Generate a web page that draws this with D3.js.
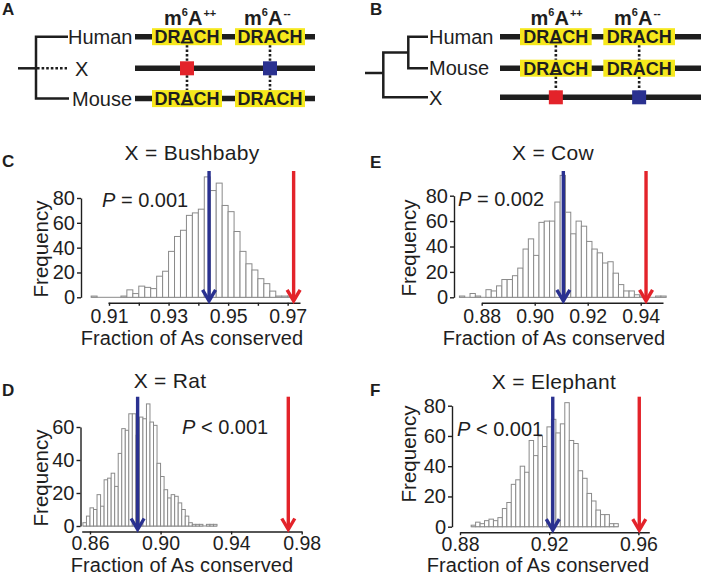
<!DOCTYPE html>
<html><head><meta charset="utf-8">
<script src="https://cdn.jsdelivr.net/npm/d3@7"></script>
<style>
html,body{margin:0;padding:0;background:#fff;}
svg{display:block;}
</style></head><body>
<svg id="fig" width="701" height="574"></svg>
<script>
// ---------------- DATA ----------------
const species = ["Bushbaby", "Cow", "Rat", "Elephant"];
const panelLetters = ["C", "E", "D", "F"];
const binWidth = 0.002;
const bushbabyStart = 0.904;
const bushbabyCounts = [1,0,0,0,0,1,6,3,9,8,7,17,21,37,49,54,66,68,71,97,86,92,74,69,53,37,27,22,15,11,5,1,1,1];
const cowStart = 0.8716;
const cowCounts = [1,0,3,1,0,6,5,9,14,14,17,23,38,46,33,59,60,60,75,96,67,50,60,56,44,38,35,27,28,19,10,5,5,2,1,0,0,1,1];
const ratStart = 0.856;
const ratCounts = [2,6,11,10,19,12,28,29,32,24,44,59,58,68,68,55,66,65,74,63,61,38,30,22,17,19,18,14,10,6,2,1,1,1,0,1,1,1];
const elephantStart = 0.885;
const elephantCounts = [1,3,2,4,5,4,6,12,16,28,31,40,36,57,47,60,53,66,71,62,68,82,57,55,37,32,22,17,11,8,8,2,2];
const expectedValues = [0.9436, 0.9108, 0.8870, 0.9216];   // blue arrows
const observedValues = [0.9720, 0.9420, 0.9724, 0.9604];   // red arrows
const pSigns = ["=", "=", "<", "<"];
const pValues = ["0.001", "0.002", "0.001", "0.001"];
const xTickValues = [
  [0.91,0.92,0.93,0.94,0.95,0.96,0.97],
  [0.88,0.90,0.92,0.94],
  [0.86,0.90,0.94,0.98],
  [0.88,0.92,0.96]
];
const xTickLabels = [
  ["0.91","","0.93","","0.95","","0.97"],
  ["0.88","0.90","0.92","0.94"],
  ["0.86","0.90","0.94","0.98"],
  ["0.88","0.92","0.96"]
];
const yTickValues = [[0,20,40,60,80],[0,20,40,60,80],[0,20,40,60],[0,20,40,60,80]];
const yMaxValues = [80, 80, 60, 80];
const rowNamesA = ["Human", "X", "Mouse"];
const rowNamesB = ["Human", "Mouse", "X"];
const motif = "DRACH";

// ---------------- LAYOUT ----------------
const FONT = "'Liberation Sans', Arial, Helvetica, sans-serif";
const INK = "#1e1e1e";
const YELLOW = "#f6e81c";
const RED = "#e3232a";
const BLUE = "#2a3190";
const svg = d3.select("#fig").attr("font-family", FONT);

function letter(txt, x, y) {
  svg.append("text").attr("x", x).attr("y", y).attr("font-size", 17)
    .attr("font-weight", "bold").attr("fill", INK).text(txt);
}

function polyline(g, pts, w, dash) {
  const p = g.append("path").attr("d", d3.line()(pts)).attr("fill", "none")
    .attr("stroke", INK).attr("stroke-width", w);
  if (dash) p.attr("stroke-dasharray", dash);
  return p;
}

function m6A(g, x, y, sup) {
  const t = g.append("text").attr("x", x).attr("y", y).attr("font-size", 20)
    .attr("font-weight", "bold").attr("fill", INK);
  t.append("tspan").text("m");
  t.append("tspan").attr("font-size", 11).attr("dy", -9).text("6");
  t.append("tspan").attr("dy", 9).text("A");
  t.append("tspan").attr("font-size", 11).attr("dy", -8).attr("dx", 1).text(sup);
}

function motifBox(g, x0, x1, cy, underline) {
  g.append("rect").attr("x", x0).attr("y", cy - 8.5).attr("width", x1 - x0).attr("height", 17)
    .attr("fill", YELLOW);
  const cx = (x0 + x1) / 2;
  g.append("text").attr("x", cx).attr("y", cy + 6.6).attr("text-anchor", "middle")
    .attr("font-size", 18).attr("font-weight", "bold").attr("fill", INK).text(motif);
  if (underline) {
    g.append("line").attr("x1", cx - 6.3).attr("x2", cx + 6.3).attr("y1", cy + 5.8).attr("y2", cy + 5.8)
      .attr("stroke", INK).attr("stroke-width", 1.8);
  }
}

function seqLine(g, x0, x1, y) {
  g.append("line").attr("x1", x0).attr("x2", x1).attr("y1", y).attr("y2", y)
    .attr("stroke", INK).attr("stroke-width", 5.5);
}

function square(g, cx, cy, color) {
  g.append("rect").attr("x", cx - 7).attr("y", cy - 7).attr("width", 14).attr("height", 14).attr("fill", color);
}

function dotted(g, x, y0, y1) {
  g.append("line").attr("x1", x).attr("x2", x).attr("y1", y0).attr("y2", y1)
    .attr("stroke", INK).attr("stroke-width", 2.6).attr("stroke-dasharray", "2.4,2");
}

// ---------- Panel A ----------
(function () {
  const g = svg.append("g");
  letter("A", 2, 15);
  const rowY = [36.7, 68.3, 98.6];
  const boxes = [[152, 222], [235, 305]];
  m6A(g, 164, 24.8, "++");
  m6A(g, 244, 24.8, "--");
  polyline(g, [[18, rowY[1]], [36, rowY[1]]], 2.5);
  polyline(g, [[68, rowY[0]], [36, rowY[0]], [36, rowY[2]], [69, rowY[2]]], 2.5);
  polyline(g, [[37, rowY[1]], [67, rowY[1]]], 2.5, "2.6,2");
  const lx = [68, 75, 72];
  rowNamesA.forEach((n, i) => g.append("text").attr("x", lx[i]).attr("y", rowY[i] + 7.2)
    .attr("font-size", 20).attr("fill", INK).text(n));
  rowY.forEach(y => seqLine(g, 135, 315, y));
  [0, 2].forEach(i => boxes.forEach((b, j) => motifBox(g, b[0], b[1], rowY[i], j === 0)));
  const cxs = boxes.map(b => (b[0] + b[1]) / 2);
  cxs.forEach(cx => { dotted(g, cx, rowY[0] + 8.5, rowY[1] - 7); dotted(g, cx, rowY[1] + 7, rowY[2] - 8.5); });
  square(g, cxs[0], rowY[1], RED);
  square(g, cxs[1], rowY[1], BLUE);
})();

// ---------- Panel B ----------
(function () {
  const g = svg.append("g");
  letter("B", 370, 15);
  const rowY = [36.7, 68.2, 97.3];
  const boxes = [[520, 591.7], [603.3, 675]];
  m6A(g, 530.5, 24.8, "++");
  m6A(g, 614, 24.8, "--");
  const mid = (rowY[0] + rowY[1]) / 2;
  polyline(g, [[365, 73], [383.3, 73]], 2.5);
  polyline(g, [[408.3, mid], [383.3, mid], [383.3, rowY[2]], [428, rowY[2]]], 2.5);
  polyline(g, [[428, rowY[0]], [408.3, rowY[0]], [408.3, rowY[1]], [428, rowY[1]]], 2.5);
  rowNamesB.forEach((n, i) => g.append("text").attr("x", 429).attr("y", rowY[i] + 7.2)
    .attr("font-size", 20).attr("fill", INK).text(n));
  rowY.forEach(y => seqLine(g, 500, 701, y));
  [0, 1].forEach(i => boxes.forEach((b, j) => motifBox(g, b[0], b[1], rowY[i], j === 0)));
  const cxs = boxes.map(b => (b[0] + b[1]) / 2);
  cxs.forEach(cx => { dotted(g, cx, rowY[0] + 8.5, rowY[1] - 8.5); dotted(g, cx, rowY[1] + 8.5, rowY[2] - 7); });
  square(g, cxs[0], rowY[2], RED);
  square(g, cxs[1], rowY[2], BLUE);
})();

// ---------- Histogram panels ----------
const starts = [bushbabyStart, cowStart, ratStart, elephantStart];
const countsAll = [bushbabyCounts, cowCounts, ratCounts, elephantCounts];
const layouts = [
  {lx:2, ly:167, xDomain:[0.90966,0.97414], xRange:[108,300], yRange:[297.3,198], yAxisX:81,
   titleX:192, titleY:160, pX:102, pY:206.5, freqX:48, freqY:249, xtX:192, xtY:345, pad:3, arrowTop:171},
  {lx:370, ly:167.7, xDomain:[0.88,0.9484], xRange:[481.7,663], yRange:[297.3,195.7], yAxisX:454,
   titleX:553, titleY:160, pX:458, pY:206, freqX:416, freqY:248, xtX:554, xtY:345, pad:3, arrowTop:171},
  {lx:2, ly:395.5, xDomain:[0.8553,0.98], xRange:[81.7,301.7], yRange:[526,427], yAxisX:80.5,
   titleX:170, titleY:388, pX:182, pY:434, freqX:48, freqY:478, xtX:182, xtY:571.5, pad:2, arrowTop:396.7},
  {lx:370, ly:395.5, xDomain:[0.88,0.9649], xRange:[460,649.3], yRange:[526.7,405.7], yAxisX:452,
   titleX:554, titleY:389, pX:457, pY:435.5, freqX:416, freqY:454, xtX:538, xtY:571.5, pad:2, arrowTop:396.7}
];

function arrow(g, xv, top, tip, color) {
  g.append("line").attr("x1", xv).attr("x2", xv).attr("y1", top).attr("y2", tip - 1.5)
    .attr("stroke", color).attr("stroke-width", 3.4);
  g.append("path").attr("d", `M${xv - 6.5},${tip - 11}L${xv},${tip}L${xv + 6.5},${tip - 11}`)
    .attr("fill", "none").attr("stroke", color).attr("stroke-width", 3.4);
}

layouts.forEach((L, k) => {
  const g = svg.append("g");
  const x = d3.scaleLinear().domain(L.xDomain).range(L.xRange);
  const y = d3.scaleLinear().domain([0, yMaxValues[k]]).range(L.yRange);
  const counts = countsAll[k];
  const bins = counts.map((c, i) => ({x0: starts[k] + i * binWidth, x1: starts[k] + (i + 1) * binWidth, c}));

  letter(panelLetters[k], L.lx, L.ly);

  g.append("line").attr("x1", x(bins[0].x0)).attr("x2", x(bins[bins.length - 1].x1))
    .attr("y1", y(0)).attr("y2", y(0)).attr("stroke", "#8a8a8a").attr("stroke-width", 1);
  g.selectAll("rect.bar").data(bins.filter(b => b.c > 0)).enter().append("rect")
    .attr("class", "bar")
    .attr("x", d => x(d.x0)).attr("width", d => x(d.x1) - x(d.x0))
    .attr("y", d => y(d.c)).attr("height", d => y(0) - y(d.c))
    .attr("fill", "#fff").attr("stroke", "#8a8a8a").attr("stroke-width", 1);

  const ya = g.append("g").attr("transform", `translate(${L.yAxisX},0)`)
    .call(d3.axisLeft(y).tickValues(yTickValues[k]).tickSize(4).tickPadding(2).tickSizeOuter(0));
  const xa = g.append("g").attr("transform", `translate(0,${y(0) + 5.5})`)
    .call(d3.axisBottom(x).tickValues(xTickValues[k]).tickSize(3).tickPadding(L.pad).tickSizeOuter(0)
      .tickFormat((d, i) => xTickLabels[k][i]));
  [ya, xa].forEach(a => {
    a.attr("font-family", FONT).attr("font-size", 20);
    a.select(".domain").attr("stroke", INK).attr("stroke-width", 1.4);
    a.selectAll(".tick line").attr("stroke", INK).attr("stroke-width", 1.4);
    a.selectAll(".tick text").attr("fill", INK);
  });
  xa.attr("font-size", 19.5);

  arrow(g, x(expectedValues[k]), L.arrowTop, y(0) + 3.5, BLUE);
  arrow(g, x(observedValues[k]), L.arrowTop, y(0) + 3.5, RED);

  g.append("text").attr("x", L.titleX).attr("y", L.titleY).attr("text-anchor", "middle")
    .attr("font-size", 21).attr("letter-spacing", 0.3).attr("fill", INK).text("X = " + species[k]);
  const pt = g.append("text").attr("x", L.pX).attr("y", L.pY).attr("font-size", 20).attr("fill", INK);
  pt.append("tspan").attr("font-style", "italic").text("P");
  pt.append("tspan").text(" " + pSigns[k] + " " + pValues[k]);
  g.append("text").attr("transform", `translate(${L.freqX},${L.freqY}) rotate(-90)`)
    .attr("text-anchor", "middle").attr("font-size", 20.5).attr("fill", INK).text("Frequency");
  g.append("text").attr("x", L.xtX).attr("y", L.xtY).attr("text-anchor", "middle")
    .attr("font-size", 20).attr("letter-spacing", 0.1).attr("fill", INK).text("Fraction of As conserved");
});
</script>
</body></html>
